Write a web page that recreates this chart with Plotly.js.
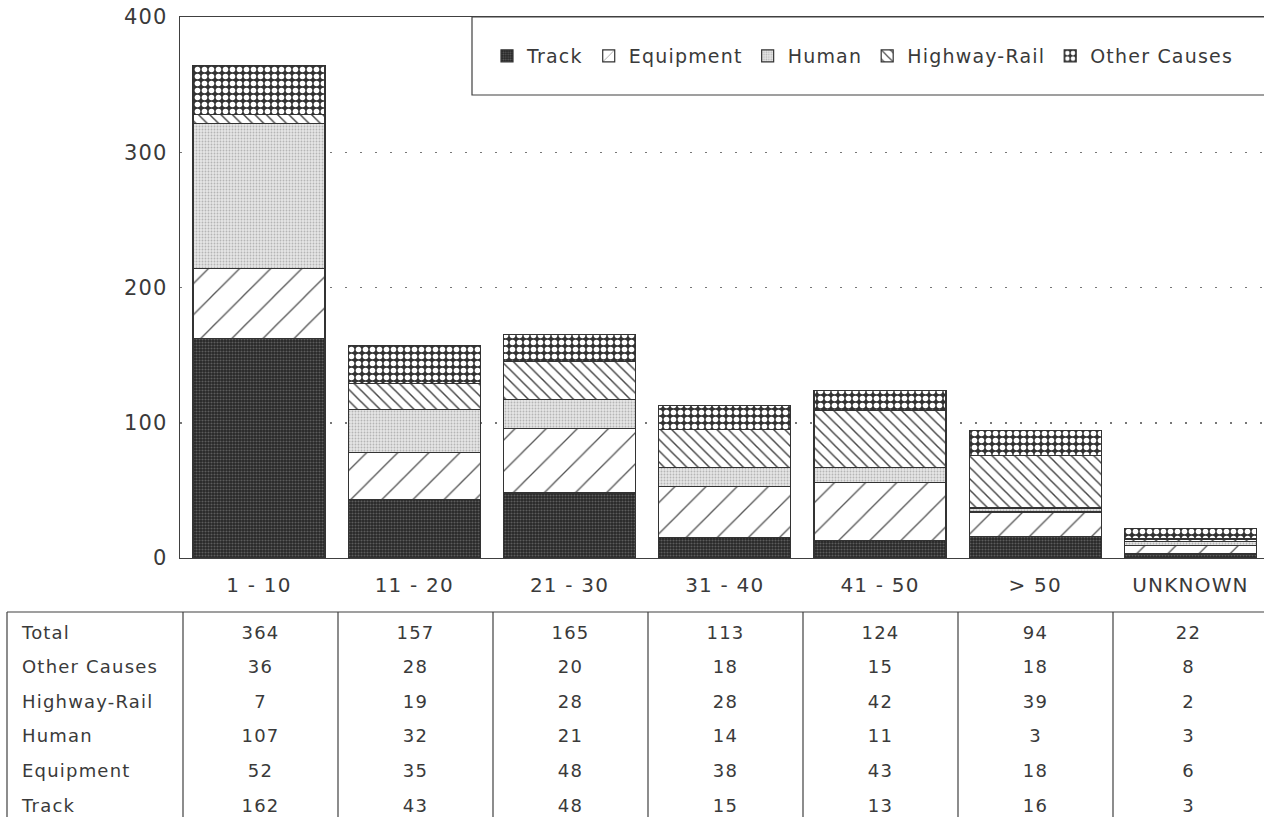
<!DOCTYPE html>
<html>
<head>
<meta charset="utf-8">
<script src="https://cdn.plot.ly/plotly-3.0.1.min.js"></script>
<style>
  html, body { margin: 0; padding: 0; background: #fff; overflow: hidden; }
  #chart { width: 1264px; height: 817px; }
  svg text { letter-spacing: 1.2px; }
  .scrollbar-kit { display: none; }
</style>
</head>
<body>
<div id="chart"></div>
<script>
// ---- data ----
const categories = ['1 - 10', '11 - 20', '21 - 30', '31 - 40', '41 - 50', '> 50', 'UNKNOWN'];
const track      = [162, 43, 48, 15, 13, 16, 3];
const equipment  = [52, 35, 48, 38, 43, 18, 6];
const human      = [107, 32, 21, 14, 11, 3, 3];
const highwayRail= [7, 19, 28, 28, 42, 39, 2];
const otherCauses= [36, 28, 20, 18, 15, 18, 8];
const totals     = [364, 157, 165, 113, 124, 94, 22];
const yTicks     = [0, 100, 200, 300, 400];
const rowLabels  = ['Other Causes', 'Highway-Rail', 'Human', 'Equipment', 'Track'];

// ---- geometry ----
const W = 1264, H = 817;
const plotLeft = 180, plotTop = 17, plotBottom = 558;
const tableTop = 612, tableLeft = 7, firstColW = 176, colW = 155;
const legendBox = {x0: 472, y0: 17, y1: 95};
const px = v => v / W;
const py = v => 1 - v / H;

const textColor = '#3a3a3a';
const lineColor = '#404040';
const FONT = 'DejaVu Sans, Liberation Sans, sans-serif';

function barTrace(name, vals, pattern) {
  return {
    type: 'bar', name: name, x: categories, y: vals,
    marker: {
      color: pattern.bgcolor,
      line: {color: '#333', width: 1.2},
      pattern: Object.assign({fillmode: 'replace'}, pattern)
    },
    hoverinfo: 'skip'
  };
}

const traces = [
  barTrace('Track', track, {shape: '.', bgcolor: '#262626', fgcolor: '#5c5c5c', size: 3, solidity: 0.4}),
  barTrace('Equipment', equipment, {shape: '/', bgcolor: '#ffffff', fgcolor: '#555', size: 22, solidity: 0.06}),
  barTrace('Human', human, {shape: '.', bgcolor: '#e6e6e6', fgcolor: '#b5b5b5', size: 3, solidity: 0.3}),
  barTrace('Highway-Rail', highwayRail, {shape: '\\', bgcolor: '#ffffff', fgcolor: '#444', size: 8, solidity: 0.18}),
  barTrace('Other Causes', otherCauses, {shape: '.', bgcolor: '#333333', fgcolor: '#ffffff', size: 7, solidity: 0.5})
];

// table
const nCols = categories.length;
const colWidths = [firstColW - 7];
for (let i = 0; i < nCols; i++) colWidths.push(colW);
colWidths[colWidths.length - 1] = W - (tableLeft + firstColW + colW * (nCols - 1));
const headerVals = [['Total']].concat(totals.map(v => [String(v)]));
const cellVals = [rowLabels].concat(categories.map((c, j) =>
  [otherCauses[j], highwayRail[j], human[j], equipment[j], track[j]].map(String)));
const aligns = ['left'].concat(categories.map(() => 'center'));
const rowH = 34.6;

traces.push({
  type: 'table',
  domain: {x: [px(tableLeft + 7), 1], y: [0, py(tableTop + 5)]},
  columnwidth: colWidths,
  header: {
    values: headerVals, align: aligns, height: rowH,
    fill: {color: 'rgba(0,0,0,0)'}, line: {color: 'rgba(0,0,0,0)', width: 0},
    font: {family: FONT, size: 18, color: textColor}
  },
  cells: {
    values: cellVals, align: aligns, height: rowH,
    fill: {color: 'rgba(0,0,0,0)'}, line: {color: 'rgba(0,0,0,0)', width: 0},
    font: {family: FONT, size: 18, color: textColor}
  }
});

// shapes: legend box and table rules
const shapes = [{
  type: 'rect', xref: 'paper', yref: 'paper',
  x0: px(legendBox.x0), x1: 1.01, y0: py(legendBox.y1), y1: py(legendBox.y0),
  fillcolor: '#ffffff', line: {color: lineColor, width: 1.2}, layer: 'above'
}, {
  type: 'line', xref: 'paper', yref: 'paper',
  x0: px(tableLeft), x1: 1.01, y0: py(tableTop), y1: py(tableTop),
  line: {color: lineColor, width: 1.2}, layer: 'above'
}];
let xb = tableLeft;
const bounds = [xb];
xb += firstColW; bounds.push(xb);
for (let i = 0; i < nCols - 1; i++) { xb += colW; bounds.push(xb); }
bounds.forEach(b => shapes.push({
  type: 'line', xref: 'paper', yref: 'paper',
  x0: px(b), x1: px(b), y0: 0, y1: py(tableTop),
  line: {color: lineColor, width: 1.2}, layer: 'above'
}));

// x range from category spacing
const cat0 = 259, spacing = 155.25;
const xr = [-(cat0 - plotLeft) / spacing, (W - cat0) / spacing];

const layout = {
  width: W, height: H,
  margin: {l: 0, r: 0, t: 0, b: 0},
  paper_bgcolor: '#ffffff', plot_bgcolor: '#ffffff',
  barmode: 'stack', bargap: 0.15,
  showlegend: true,
  font: {family: FONT, size: 19, color: textColor},
  legend: {
    orientation: 'h', traceorder: 'normal',
    x: px(487), xanchor: 'left', y: py(56), yanchor: 'middle',
    bgcolor: 'rgba(0,0,0,0)', borderwidth: 0,
    font: {family: FONT, size: 19, color: textColor}
  },
  xaxis: {
    domain: [px(plotLeft), 1], range: xr, type: 'category',
    showline: true, linecolor: lineColor, linewidth: 1.2, mirror: true,
    showgrid: false, ticks: '', ticklabelstandoff: 9,
    tickfont: {family: FONT, size: 20, color: textColor},
    fixedrange: true
  },
  yaxis: {
    domain: [py(plotBottom), py(plotTop)], range: [0, 400],
    tickvals: yTicks, ticktext: yTicks.map(String),
    showline: true, linecolor: lineColor, linewidth: 1.2,
    showgrid: true, gridcolor: '#777', gridwidth: 1.5, griddash: '2px,13px',
    zeroline: false, ticks: '', ticklabelstandoff: 7,
    tickfont: {family: FONT, size: 21, color: textColor},
    fixedrange: true
  },
  shapes: shapes,
  hovermode: false
};

Plotly.newPlot('chart', traces, layout, {displayModeBar: false, staticPlot: true});
</script>
</body>
</html>
